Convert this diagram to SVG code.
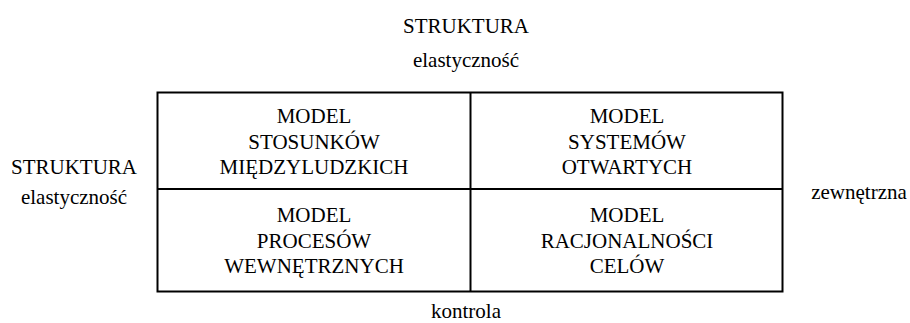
<svg xmlns="http://www.w3.org/2000/svg" width="910" height="323" viewBox="0 0 910 323">
<style>
.ln{stroke:#000;stroke-width:2;fill:none}
</style>
<rect width="910" height="323" fill="#fff"/>
<g id="axis-labels" font-family="Liberation Serif" font-size="21" fill="#000" text-anchor="middle">
<text x="466" y="33">STRUKTURA</text>
<text x="466" y="67">elastyczność</text>
<text x="74" y="174">STRUKTURA</text>
<text x="74" y="204">elastyczność</text>
<text x="859" y="199">zewnętrzna</text>
<text x="466" y="318">kontrola</text>
</g>
<g id="connectors">
<rect class="ln" x="157.5" y="92.5" width="625" height="199"/>
<line class="ln" x1="470.5" y1="92.5" x2="470.5" y2="291.5"/>
<line class="ln" x1="157.5" y1="189" x2="782.5" y2="189"/>
</g>
<g id="node-tl" font-family="Liberation Serif" font-size="21" fill="#000" text-anchor="middle">
<text x="314" y="123">MODEL</text>
<text x="314" y="148.5">STOSUNKÓW</text>
<text x="314" y="174">MIĘDZYLUDZKICH</text>
</g>
<g id="node-tr" font-family="Liberation Serif" font-size="21" fill="#000" text-anchor="middle">
<text x="627" y="123">MODEL</text>
<text x="627" y="148.5">SYSTEMÓW</text>
<text x="627" y="174">OTWARTYCH</text>
</g>
<g id="node-bl" font-family="Liberation Serif" font-size="21" fill="#000" text-anchor="middle">
<text x="314" y="222">MODEL</text>
<text x="314" y="247.5">PROCESÓW</text>
<text x="314" y="273">WEWNĘTRZNYCH</text>
</g>
<g id="node-br" font-family="Liberation Serif" font-size="21" fill="#000" text-anchor="middle">
<text x="627" y="222">MODEL</text>
<text x="627" y="247.5">RACJONALNOŚCI</text>
<text x="627" y="273">CELÓW</text>
</g>
</svg>
